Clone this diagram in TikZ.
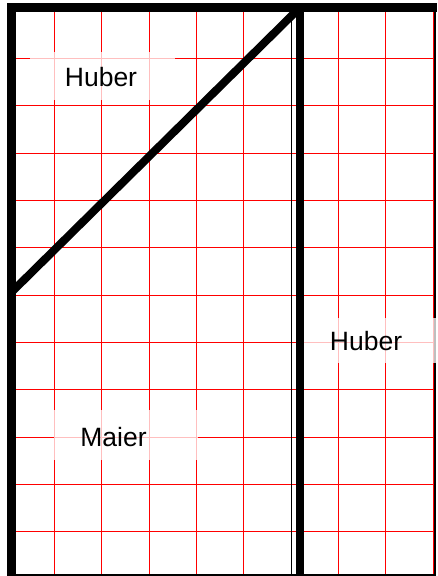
\documentclass[tikz,border=0pt]{standalone}
\usepackage{fontspec}
\setmainfont{Liberation Sans}
\begin{document}
\begin{tikzpicture}[x=1pt,y=-1pt,
  gridline/.style={draw=red, line width=1pt},
  thinblack/.style={draw=black, line width=1.2pt},
  thickline/.style={draw=black, line width=8.5pt},
  labelbg/.style={fill=white, fill opacity=0.75},
  namelabel/.style={anchor=base, inner sep=0pt, font=\fontsize{26.5}{30}\selectfont}]
\useasboundingbox (0,0) rectangle (437,576);
\fill[white] (0,0) rectangle (437,576);
% red grid
\foreach \i in {1,...,11}
  \draw[gridline] (7,{11+47.333*\i}) -- (435,{11+47.333*\i});
\foreach \i in {0,...,9}
  \draw[gridline] ({7+47.333*\i},3) -- ({7+47.333*\i},576);
% thin black lines
\draw[thinblack] (291.3,3) -- (291.3,576);
\draw[draw=black, line width=2pt] (434.5,3) -- (434.5,576);
\draw[draw=black, line width=2pt] (7,574.5) -- (436,574.5);
% label backgrounds
\fill[labelbg] (30,52) rectangle (175,100);
\fill[labelbg] (54,410) rectangle (198,460);
\fill[labelbg] (304,318) rectangle (436,363);
% labels
\node[namelabel] (huberTop) at (101,86) {Huber};
\node[namelabel] (maier) at (113.5,446) {Maier};
\node[namelabel] (huberRight) at (366,350) {Huber};
% thick lines
\coordinate (tl) at (7,7.5);
\coordinate (tr) at (437,7.5);
\coordinate (lt) at (11.7,3);
\coordinate (lb) at (11.7,576);
\coordinate (mt) at (300,3);
\coordinate (mb) at (300,576);
\coordinate (dA) at (11.7,292);
\coordinate (dB) at (300,7.5);
\draw[thickline] (tl) -- (tr);
\draw[thickline, line width=8.7pt] (lt) -- (lb);
\draw[thickline, line width=7.5pt] (mt) -- (mb);
\draw[thickline, line width=8pt] (dA) -- (dB);
\end{tikzpicture}
\end{document}
